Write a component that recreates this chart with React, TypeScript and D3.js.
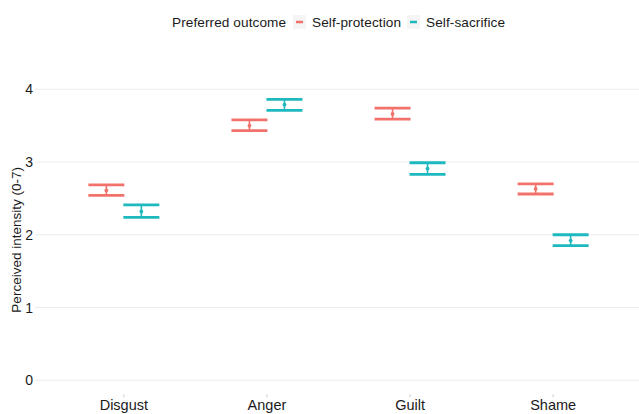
import React from "react";
import * as d3 from "d3";

const categories = ["Disgust", "Anger", "Guilt", "Shame"];
const groups = ["Self-protection", "Self-sacrifice"];
const protMean = [2.61, 3.5, 3.66, 2.63];
const protLow = [2.54, 3.43, 3.59, 2.56];
const protHigh = [2.685, 3.58, 3.74, 2.7];
const sacrMean = [2.32, 3.79, 2.91, 1.92];
const sacrLow = [2.24, 3.71, 2.83, 1.85];
const sacrHigh = [2.41, 3.86, 2.99, 2.0];
const yTicks = [0, 1, 2, 3, 4];
const colors = ["#F1726B", "#1EB9BE"];

const W = 639;
const H = 414;

export default function App() {
  const panelLeft = 38;
  const panelRight = 639;
  const panelTop = 85.4;
  const panelBottom = 394.3;

  const x = d3
    .scalePoint<string>()
    .domain(categories)
    .range([panelLeft, panelRight])
    .padding(0.6);
  const y = d3.scaleLinear().domain([-0.193, 4.053]).range([panelBottom, panelTop]);

  const dodge = 17.5;
  const capHalf = 18;

  const series = [
    { name: groups[0], mean: protMean, low: protLow, high: protHigh, off: -dodge, color: colors[0] },
    { name: groups[1], mean: sacrMean, low: sacrLow, high: sacrHigh, off: dodge, color: colors[1] },
  ];

  const font = "'Liberation Sans', Arial, sans-serif";

  return (
    <svg width={W} height={H} style={{ position: "absolute", left: 0, top: 0, background: "#fff" }} fontFamily={font}>
      <rect x={0} y={0} width={W} height={H} fill="#fff" />
      {/* legend */}
      <g>
        <text x={172} y={27} textLength={114} fontSize={13.6} fill="#1a1a1a">Preferred outcome</text>
        <rect x={293} y={15} width={13} height={14} fill="#f5f5f5" />
        <line x1={296} x2={303} y1={22} y2={22} stroke={colors[0]} strokeWidth={2.5} />
        <text x={312} y={27} textLength={89} fontSize={13.6} fill="#1a1a1a">Self-protection</text>
        <rect x={407} y={15} width={13} height={14} fill="#f5f5f5" />
        <line x1={410} x2={417} y1={22} y2={22} stroke={colors[1]} strokeWidth={2.5} />
        <text x={426} y={27} textLength={79} fontSize={13.6} fill="#1a1a1a">Self-sacrifice</text>
      </g>
      {/* grid */}
      {yTicks.map((t) => (
        <g key={t}>
          <line x1={panelLeft - 3} x2={panelRight} y1={y(t)} y2={y(t)} stroke="#ebebeb" strokeWidth={1} />
          <text x={33} y={y(t) + 5} fontSize={14} textAnchor="end" fill="#1a1a1a">{t}</text>
        </g>
      ))}
      {/* x axis labels */}
      {categories.map((c) => (
        <g key={c}>
          <line x1={x(c)} x2={x(c)} y1={panelBottom} y2={panelBottom + 3} stroke="#ccc" strokeWidth={1} />
          <text x={x(c)} y={409.5} fontSize={14.5} textAnchor="middle" fill="#1a1a1a">{c}</text>
        </g>
      ))}
      {/* y title */}
      <text
        transform={`translate(21,${(panelTop + panelBottom) / 2}) rotate(-90)`}
        fontSize={13.5}
        textAnchor="middle"
        fill="#1a1a1a"
      >
        Perceived intensity (0-7)
      </text>
      {/* error bars */}
      {series.map((s) => (
        <g key={s.name} stroke={s.color} fill={s.color}>
          {categories.map((c, i) => {
            const cx = (x(c) as number) + s.off;
            return (
              <g key={c}>
                <line x1={cx - capHalf} x2={cx + capHalf} y1={y(s.high[i])} y2={y(s.high[i])} strokeWidth={2.8} />
                <line x1={cx - capHalf} x2={cx + capHalf} y1={y(s.low[i])} y2={y(s.low[i])} strokeWidth={2.8} />
                <line x1={cx} x2={cx} y1={y(s.high[i])} y2={y(s.low[i])} strokeWidth={1.6} />
                <circle cx={cx} cy={y(s.mean[i])} r={1.9} stroke="none" />
              </g>
            );
          })}
        </g>
      ))}
    </svg>
  );
}
